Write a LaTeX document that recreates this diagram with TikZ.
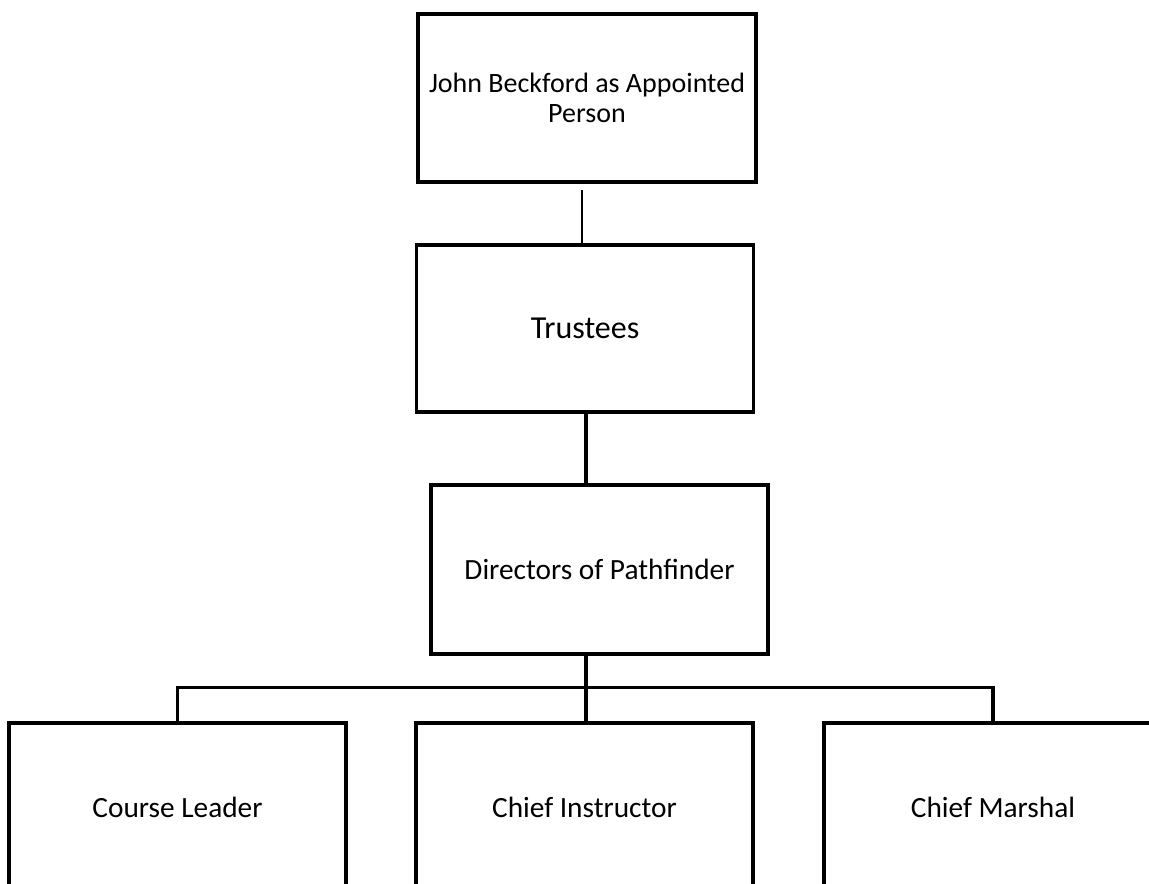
\documentclass[tikz,border=0pt]{standalone}
\usepackage{fontspec}
\setmainfont{Carlito}

\tikzset{
  post/.style={draw,line width=2.4pt,inner sep=0pt,outer sep=0pt,
    minimum width=252.75pt,minimum height=126pt,align=center,
    font=\fontsize{22}{23.5}\selectfont},
  link/.style={line width=2.4pt},
}

\begin{document}
\begin{tikzpicture}[x=0.75pt,y=-0.75pt,line join=miter]

\clip (0,0) rectangle (1149,884);

\node[post,minimum width=253.5pt,font=\fontsize{21}{22.5}\selectfont] (appointed) at (587,98) {John Beckford as Appointed\\Person};
\node[post,minimum height=125.25pt,font=\fontsize{24}{27}\selectfont] (trustees) at (585,328.5) {Trustees};
\node[post,minimum height=126.75pt] (directors) at (599.5,569.5) {Directors of Pathfinder};

\node[post] (leader) at (177.5,807) {Course Leader};
\node[post] (instructor) at (584.5,807) {Chief Instructor};
\node[post,minimum width=253.5pt] (marshal) at (993,807) {Chief Marshal};

% appointed person -- trustees
\coordinate (tick) at (582,190);
\draw[line width=0.8pt] (tick) -- (tick |- trustees.north);

% trustees -- directors
\coordinate (drop) at (586,0);
\draw[link] (trustees.south -| drop) -- (directors.north -| drop);

% directors -- the three posts
\coordinate (bar) at (586,687.5);
\draw[link] (directors.south -| bar) -- (bar);
\draw[link] (leader.north) |- (bar) -| (marshal.north);
\draw[link] (bar) -- (bar |- instructor.north);

\end{tikzpicture}
\end{document}
